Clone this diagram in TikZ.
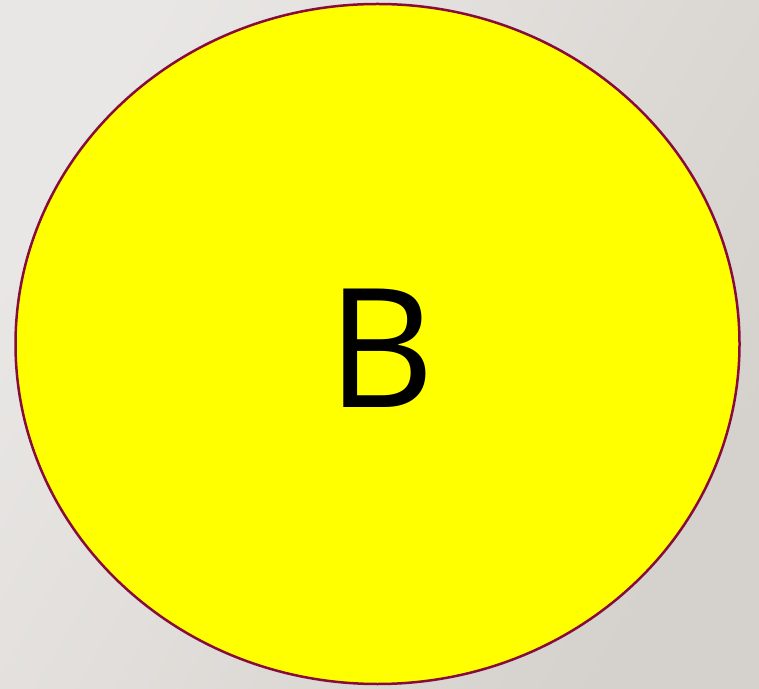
\documentclass[tikz,border=0pt]{standalone}
\usepackage{fontspec}
\setmainfont{Open Sans}
\usetikzlibrary{shapes.geometric}
\definecolor{bgA}{HTML}{E9E7E5}
\definecolor{bgB}{HTML}{D5D1CC}
\definecolor{rimc}{HTML}{880C3A}
\definecolor{yel}{RGB}{255,255,0}
\tikzset{blob/.style={ellipse, draw=rimc, line width=2.5pt, fill=yel, minimum width=724pt, minimum height=680pt, inner sep=0pt}}
\begin{document}
\begin{tikzpicture}[x=1pt,y=1pt]
\shade[top color=bgA, bottom color=bgB, shading angle=60] (0,0) rectangle (759,688);
\useasboundingbox (0,0) rectangle (759,688);
\node[blob] (b) at (377.5,344) {};
\node (t) at (381,340) {\fontsize{166}{166}\selectfont B};
\end{tikzpicture}
\end{document}
